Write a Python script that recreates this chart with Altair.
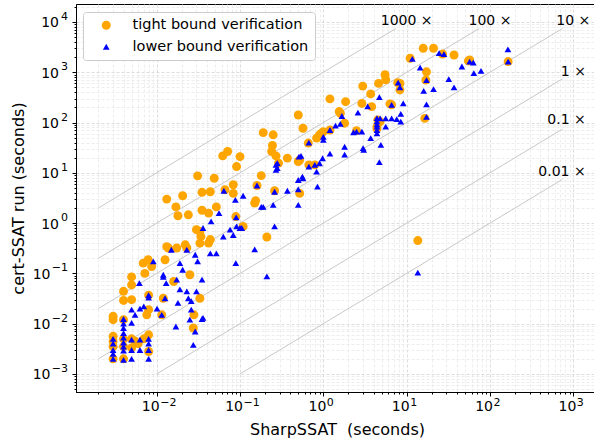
import altair as alt
import pandas as pd

# ---------------- data (seconds) ----------------
tight_x = [0.003, 0.003, 0.003, 0.003, 0.003, 0.003,
           0.004, 0.004, 0.004, 0.004, 0.004, 0.004,
           0.005, 0.005, 0.005, 0.005, 0.005, 0.006, 0.007, 0.0055,
           0.0072, 0.0087, 0.0069, 0.0079, 0.008, 0.008, 0.008, 0.008, 0.0076,
           0.0126, 0.0138, 0.0174, 0.023, 0.033, 0.033, 0.034, 0.042, 0.022, 0.0132,
           0.017, 0.024, 0.035, 0.042, 0.052, 0.018, 0.0132, 0.0205, 0.031, 0.035, 0.044, 0.049,
           0.016, 0.0115, 0.012, 0.025, 0.033, 0.0275, 0.028, 0.109, 0.21, 0.15, 0.044, 0.03,
           0.062, 0.071, 0.091, 0.1, 0.083, 0.083, 0.089, 0.066, 0.154, 0.18, 0.16,
           0.19, 0.25, 0.245, 0.24, 0.27, 0.29, 0.37, 0.26, 0.5, 0.5, 0.57,
           1.2, 1.85, 2.97, 3.7, 4.6, 5.5, 5.6, 8.3, 8.3, 1.6, 1.8, 2.9, 3.8,
           15.8, 21, 37, 17.3, 11, 57, 165, 16.5, 17,
           1.0, 0.83, 0.95, 0.66, 0.52, 0.79, 2.5, 4.5, 6.6, 7.8, 0.52, 1.55, 4.8, 4.4,
           27, 55, 13.6, 0.9, 1.2, 6.3, 4.4, 0.67]
tight_y = [0.012, 0.014, 0.0056, 0.0044, 0.0035, 0.002,
           0.044, 0.029, 0.012, 0.0035, 0.002, 0.005,
           0.085, 0.059, 0.03, 0.0033, 0.005, 0.004, 0.005, 0.0045,
           0.1, 0.137, 0.16, 0.187, 0.037, 0.019, 0.0028, 0.006, 0.015,
           0.187, 0.32, 0.32, 0.32, 0.4, 0.68, 0.54, 0.4, 0.37, 0.34,
           2.1, 1.46, 1.8, 1.58, 2.1, 1.4, 3.0, 3.5, 8.7, 4.1, 4.2, 7.8,
           0.069, 0.015, 0.032, 0.094, 0.032, 0.0082, 0.015, 0.86, 0.53, 2.5, 0.47, 0.74,
           21.7, 26.5, 13.3, 21, 5.8, 3.9, 1.35, 4.6, 2.8, 8.8, 5.6,
           63, 57, 35, 26.5, 21.7, 15.6, 19.6, 4.4, 141, 16.8, 77,
           295, 260, 530, 370, 600, 890, 710, 445, 600, 153, 97, 240, 207,
           3000, 3000, 2200, 1020, 1900, 1760, 1630, 121, 700,
           66, 49, 61, 39, 18, 14.4, 69, 113, 225, 620, 3.9, 165, 104, 83,
           2300, 1680, 0.45, 57, 71, 235, 75, 14.4]

lower_x = [0.003, 0.003, 0.003, 0.003, 0.003,
           0.004, 0.004, 0.004, 0.004, 0.004, 0.004, 0.004, 0.004, 0.004,
           0.005, 0.005, 0.005, 0.005, 0.005,
           0.0063, 0.0063, 0.0063,
           0.008, 0.008, 0.008, 0.008, 0.008, 0.008,
           0.0055, 0.007, 0.0101, 0.0115, 0.0062, 0.012, 0.012, 0.0126, 0.0091, 0.015,
           0.0174, 0.019, 0.018, 0.017, 0.023, 0.023, 0.0205, 0.019, 0.026, 0.025,
           0.029, 0.0275, 0.036, 0.030, 0.035, 0.036, 0.045, 0.056, 0.029, 0.031,
           0.044, 0.052, 0.063, 0.076, 0.091, 0.1, 0.089, 0.15, 0.26, 0.21, 0.18,
           0.088, 0.5, 0.024, 0.026, 0.035, 0.013, 0.083, 0.105,
           0.064, 0.109, 0.16, 0.19, 0.26, 0.27, 0.27, 0.28, 0.28, 0.37, 0.51, 0.5,
           0.25, 0.5, 0.57, 0.85, 0.67, 0.79, 0.67, 0.54, 0.09,
           164, 165, 57, 63, 46, 64, 78, 32, 37, 21, 16, 17.3, 17.3, 17.3,
           24.5, 28, 11.7, 14.5, 7.9, 8.3, 4.7, 3.4, 2.6, 1.67, 1.6, 6.6, 9.1,
           4.8, 4.4, 4.4, 4.4, 4.4, 4.4, 4.4, 5.6, 6.6, 8.5, 8.5, 5.6,
           1.2, 1.0, 1.0, 2.5, 2.9, 3.7, 4.9, 1.8, 1.2, 0.98, 0.83, 1.8, 3.05,
           4.7, 1.4, 2.3, 3.0, 0.9, 0.56, 7.6, 13.6]
lower_y = [0.005, 0.004, 0.003, 0.0025, 0.002,
           0.0124, 0.01, 0.0082, 0.0065, 0.0053, 0.0042, 0.0035, 0.0029, 0.0019,
           0.0104, 0.0048, 0.003, 0.002, 0.019,
           0.003, 0.0048, 0.02,
           0.005, 0.004, 0.003, 0.002, 0.037, 0.033,
           0.015, 0.022, 0.02, 0.015, 0.064, 0.094, 0.085, 0.032, 0.173, 0.295,
           0.075, 0.048, 0.026, 0.0088, 0.044, 0.295, 0.118, 0.16, 0.019, 0.012,
           0.007, 0.0038, 0.013, 0.044, 0.075, 0.8, 1.08, 1.58, 0.235, 0.173,
           0.25, 0.25, 0.54, 0.74, 0.86, 0.8, 0.16, 0.30, 0.86, 0.087, 2.1,
           2.9, 2.3, 0.032, 0.028, 0.0124, 0.064, 0.58, 0.8,
           4.4, 3.5, 5.6, 2.1, 4.2, 14.4, 11.4, 15.6, 12.4, 4.4, 21, 7.2,
           2.3, 4.7, 7.8, 5.3, 40, 14.4, 13.3, 21.7, 1.3,
           2860, 1630, 1630, 1560, 1300, 960, 1060, 730, 500, 460, 425, 230, 700, 130,
           2400, 2300, 1840, 1230, 620, 500, 320, 210, 157, 135, 94, 225, 240,
           121, 122, 105, 92, 83, 71, 61, 121, 121, 148, 104, 83,
           71, 52, 45, 66, 66, 49, 36, 33, 24, 19.5, 10.6, 23, 28.5,
           16.3, 87, 64, 31, 15.5, 8.4, 117, 0.104]

series_names = ["tight bound verification", "lower bound verification"]
series_colors = ["orange", "blue"]
series_shapes = ["circle", "triangle-up"]
series_sizes = [80, 45]

# speed-up reference lines and their labels
factors = [1000, 100, 10, 1, 0.1, 0.01]
factor_labels = ["1000 \u00d7", "100 \u00d7", "10 \u00d7", "1 \u00d7", "0.1 \u00d7", "0.01 \u00d7"]
label_x = [10, 100, 1000, 1000, 830, 730]
label_y = [10500, 10500, 10500, 1000, 110, 10.6]
line_x_limits = [0.002, 1000]
line_y_limits = [0.001, 10000]

# tick labels: base "10" and exponent
decades = [1e-3, 1e-2, 1e-1, 1.0, 10.0, 100.0, 1000.0, 1e4]
exponents = ["\u22123", "\u22122", "\u22121", "0", "1", "2", "3", "4"]

x_domain = [0.001076, 1977]
y_domain = [0.000438, 22750]

# ---------------- tables ----------------
pts = pd.concat([
    pd.DataFrame({"x": tight_x, "y": tight_y, "series": series_names[0]}),
    pd.DataFrame({"x": lower_x, "y": lower_y, "series": series_names[1]}),
], ignore_index=True)
pts["order"] = range(len(pts))

rows = []
for f in factors:
    xs_ = max(line_x_limits[0], line_y_limits[0] / f)
    xe_ = min(line_x_limits[1], line_y_limits[1] / f) / 1.35
    rows.append({"f": str(f), "x": xs_, "y": xs_ * f})
    rows.append({"f": str(f), "x": xe_, "y": xe_ * f})
lines = pd.DataFrame(rows)
labels = pd.DataFrame({"x": label_x, "y": label_y, "t": factor_labels})


def minor_vals(domain):
    out = []
    for d in range(-4, 5):
        for m in range(1, 10):
            v = float(f"{m}e{d}")
            if domain[0] <= v <= domain[1]:
                out.append(v)
    return out


x_ticks = minor_vals(x_domain)
y_ticks = minor_vals(y_domain)
x_major = [v for v in decades if x_domain[0] <= v <= x_domain[1]]
y_major = [v for v in decades if y_domain[0] <= v <= y_domain[1]]

decade = "abs(log(datum.value)/LN10 - round(log(datum.value)/LN10)) < 1e-6"
exp_arr = "[" + ",".join("'" + s + "'" for s in exponents) + "]"
base_expr = f"{decade} ? '10' : ''"
exp_expr = f"{exp_arr}[round(log(datum.value)/LN10)+3]"

FONT = "DejaVu Sans"

common = dict(labelFont=FONT, labelColor="black", labelOverlap=False, labelFlush=False,
              titleFont=FONT, titleFontSize=16, titleFontWeight="normal", titleColor="black")

x_axis = alt.Axis(
    title="SharpSSAT\u00a0 (seconds)", values=x_ticks, labelExpr=base_expr, orient="bottom",
    labelFontSize=14, labelAlign="right", labelOffset=2.5, labelPadding=3, titlePadding=8,
    tickColor="black", tickWidth=1,
    tickSize={"condition": {"test": decade, "value": 4}, "value": 2},
    domainColor="black", domainWidth=1,
    grid=True, gridDash=[3, 2], gridWidth=0.8,
    gridColor={"condition": {"test": decade, "value": "#d4d4d4"}, "value": "#e8e8e8"},
    **common,
)
y_axis = alt.Axis(
    title="cert-SSAT run (seconds)", values=y_ticks, labelExpr=base_expr, orient="left",
    labelFontSize=14, labelOffset=1, titlePadding=6,
    labelPadding={"condition": {"test": "datum.value < 0.5", "value": 22}, "value": 13.5},
    tickColor="black", tickWidth=1,
    tickSize={"condition": {"test": decade, "value": 4}, "value": 2},
    domainColor="black", domainWidth=1,
    grid=True, gridDash=[3, 2], gridWidth=0.8,
    gridColor={"condition": {"test": decade, "value": "#d4d4d4"}, "value": "#e8e8e8"},
    **common,
)
x_exp_axis = alt.Axis(title=None, values=x_major, labelExpr=exp_expr, orient="bottom",
                      labelFontSize=11, labelAlign="left", labelOffset=3, labelPadding=4.5,
                      ticks=False, tickSize=0, domain=False, grid=False,
                      labelFont=FONT, labelColor="black", labelOverlap=False, labelFlush=False)
y_exp_axis = alt.Axis(title=None, values=y_major, labelExpr=exp_expr, orient="left",
                      labelFontSize=11, labelAlign="right", labelOffset=-5.5, labelPadding=8.5,
                      ticks=False, tickSize=0, domain=False, grid=False,
                      labelFont=FONT, labelColor="black", labelOverlap=False, labelFlush=False)

xs = alt.Scale(type="log", domain=x_domain, nice=False)
ys = alt.Scale(type="log", domain=y_domain, nice=False)

ref_lines = alt.Chart(lines).mark_line(color="#c8c8c8", strokeWidth=1, clip=True).encode(
    x=alt.X("x:Q", scale=xs, axis=x_exp_axis),
    y=alt.Y("y:Q", scale=ys, axis=y_exp_axis),
    detail="f:N",
)

points = alt.Chart(pts).mark_point(filled=True, opacity=1, strokeWidth=0, clip=True).encode(
    x=alt.X("x:Q", scale=xs, axis=x_axis),
    y=alt.Y("y:Q", scale=ys, axis=y_axis),
    color=alt.Color("series:N", scale=alt.Scale(domain=series_names, range=series_colors),
                    legend=alt.Legend(title=None, orient="none", legendX=7, legendY=8,
                                      padding=6, rowPadding=6.5, cornerRadius=3,
                                      strokeColor="#cccccc", fillColor="white",
                                      labelFont=FONT, labelFontSize=14.5, labelColor="black",
                                      symbolOffset=10, labelOffset=19, labelLimit=400)),
    shape=alt.Shape("series:N", scale=alt.Scale(domain=series_names, range=series_shapes)),
    size=alt.Size("series:N", scale=alt.Scale(domain=series_names, range=series_sizes)),
    order=alt.Order("order:Q"),
)

texts = alt.Chart(labels).mark_text(font=FONT, fontSize=14, color="black",
                                    align="center", baseline="middle").encode(
    x=alt.X("x:Q", scale=xs, axis=None),
    y=alt.Y("y:Q", scale=ys, axis=None),
    text="t:N",
)

chart = alt.layer(ref_lines, points, texts).resolve_axis(
    x="independent", y="independent"
).properties(
    width=522, height=388,
    autosize=alt.AutoSizeParams(type="none"),
    padding={"left": 76, "top": 4, "right": -4, "bottom": 52},
).configure_view(stroke="black", strokeWidth=1)

chart.save("out.html", embed_options={"renderer": "svg", "actions": False})
